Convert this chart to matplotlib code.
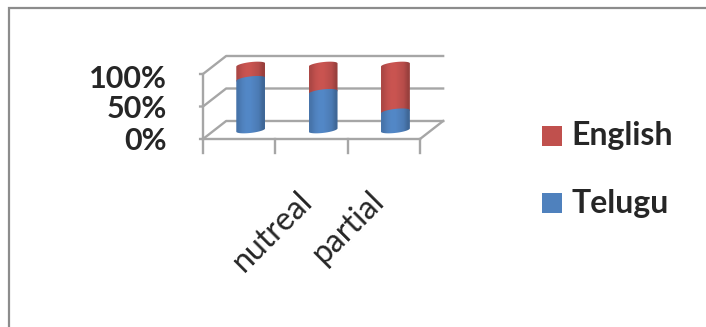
#!/usr/bin/env python3
import numpy as np
import matplotlib
matplotlib.use('Agg')
import matplotlib.pyplot as plt
from matplotlib.path import Path
from matplotlib.patches import PathPatch, Rectangle

plt.rcParams['font.family'] = ['Lato', 'DejaVu Sans']

categories = ['', 'nutreal', 'partial']
telugu = [78, 58, 28]
english = [22, 42, 72]
y_ticks = [0, 50, 100]
y_labels = ['0%', '50%', '100%']

W, H = 706, 327
GRID = '#a6a6a6'
BLUE = '#4f81bd'
RED = '#c0504d'

# depth of the fake 3d box, in data units
DX = 0.32
DY = 27.7
BAR_RX = 0.2
BAR_RY = 4.5
BAR_TILT = 2.5

# the y labels crowd together in the original, nudge them per tick
LABEL_NUDGE = {0: -3, 50: -4.6, 100: -8}

fig = plt.figure(figsize=(W / 100, H / 100), dpi=100)

# frame of the pasted chart
bg = fig.add_axes([0, 0, 1, 1])
bg.set_xlim(0, W)
bg.set_ylim(H, 0)
bg.axis('off')
bg.plot([9, 9, W], [H, 8, 8], color='#8c8c8c', lw=1.6, solid_joinstyle='miter')

# axes covers the front plane of the box
ax = fig.add_axes([203 / W, 1 - 139 / H, 217 / W, 65 / H])
ax.set_xlim(0, 3)
ax.set_ylim(0, 100)
ax.axis('off')


def line(xs, ys):
    ax.plot(xs, ys, color=GRID, lw=1.7, clip_on=False, zorder=1)


# back wall and side wall grid
for t in y_ticks:
    line([-0.04, 0, DX, 3 + DX], [t, t, t + DY, t + DY])
line([3, 3 + DX], [0, DY])
line([0, 3], [0, 0])
line([0, 0], [0, 100])
for i in range(len(categories) + 1):
    line([i, i], [0, -21])


def cyl_path(cx, y0, y1):
    t = np.linspace(np.pi, 2 * np.pi, 40)
    bx = cx + BAR_RX * np.cos(t)
    by = y0 + BAR_RY * np.sin(t) + BAR_TILT * np.cos(t)
    tt = np.linspace(0, np.pi, 40)
    ux = cx + BAR_RX * np.cos(tt)
    uy = y1 + BAR_RY * np.sin(tt) + BAR_TILT * np.cos(tt)
    return Path(np.column_stack([np.r_[bx, ux], np.r_[by, uy]]))


def shade(hex_color):
    # left to right shading of the cylinder
    rgb = np.array(matplotlib.colors.to_rgb(hex_color))
    k = np.array([0.9, 1.0, 1.05, 1.05, 1.0, 0.95, 0.8])
    return np.clip(k[None, :, None] * rgb[None, None, :], 0, 1)


def cylinder(cx, y0, y1, color, z):
    patch = PathPatch(cyl_path(cx, y0, y1), fc='none', ec='none', transform=ax.transData)
    patch.set_clip_on(False)
    ax.add_patch(patch)
    im = ax.imshow(shade(color), extent=[cx - BAR_RX, cx + BAR_RX, y0 - 20, y1 + 20],
                   aspect='auto', interpolation='bilinear', zorder=z)
    # only the cylinder outline clips, the box top sits above the axes
    im.set_clip_box(fig.bbox)
    im.set_clip_path(patch)


for i, (te, en) in enumerate(zip(telugu, english)):
    cx = i + 0.5 + DX / 2
    cy = DY / 2
    cylinder(cx, cy + te, cy + te + en, RED, 3)
    cylinder(cx, cy, cy + te, BLUE, 4)

ax.set_xlim(0, 3)
ax.set_ylim(0, 100)

for t, lab in zip(y_ticks, y_labels):
    ax.text(-0.5, t + LABEL_NUDGE[t], lab, ha='right', va='center',
            fontsize=22, fontweight='bold', color='#262626', clip_on=False)

for i, lab in enumerate(categories):
    if lab:
        ax.annotate(lab, (i + 0.5, 0), xytext=(-4, -57), textcoords='offset pixels',
                    rotation=45, rotation_mode='anchor', ha='right', va='center',
                    fontsize=23, color='#262626', annotation_clip=False)

# legend by hand to keep the wide spacing of the original
for name, color, y in [('English', RED, 136), ('Telugu', BLUE, 203)]:
    bg.add_patch(Rectangle((542, y - 10), 20, 20, fc=color, ec='none'))
    bg.text(571, y, name, ha='left', va='center', fontsize=23, fontweight='bold', color='#262626')

fig.savefig('out.png', dpi=100)
plt.close(fig)
